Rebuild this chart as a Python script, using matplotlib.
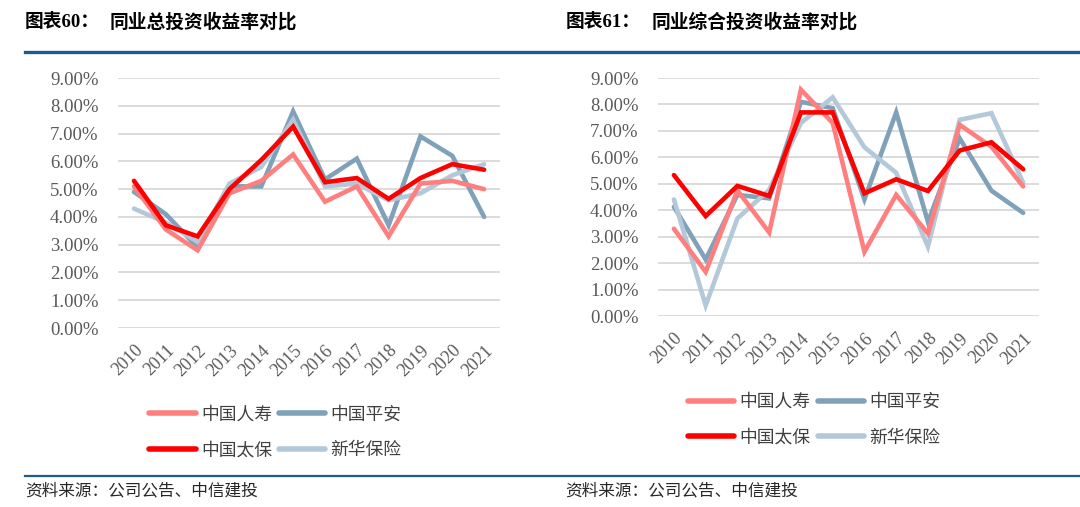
import numpy as np
import matplotlib
matplotlib.use('Agg')
import matplotlib.pyplot as plt
from matplotlib.lines import Line2D

# =========================================================
# 数据 (从图中读取, 单位: %)
# =========================================================
years = ['2010', '2011', '2012', '2013', '2014', '2015',
         '2016', '2017', '2018', '2019', '2020', '2021']
companies = ['中国人寿', '中国太保', '中国平安', '新华保险']

# 图表60: 总投资收益率
total_rensho  = [5.10, 3.55, 2.80, 4.85, 5.30, 6.25, 4.55, 5.10, 3.30, 5.20, 5.30, 5.00]
total_taibao  = [5.30, 3.70, 3.30, 5.00, 6.05, 7.25, 5.25, 5.40, 4.65, 5.40, 5.90, 5.70]
total_pingan  = [4.90, 4.10, 2.90, 5.10, 5.10, 7.80, 5.35, 6.10, 3.70, 6.90, 6.20, 4.00]
total_xinhua  = [4.30, 3.80, 3.10, 5.20, 5.80, 7.50, 5.10, 5.20, 4.60, 4.85, 5.50, 5.90]

# 图表61: 综合投资收益率
comp_rensho = [3.30, 1.67, 4.75, 3.16, 8.56, 7.30, 2.43, 4.58, 3.12, 7.23, 6.40, 4.90]
comp_taibao = [5.33, 3.78, 4.92, 4.54, 7.70, 7.70, 4.64, 5.17, 4.73, 6.26, 6.57, 5.55]
comp_pingan = [4.13, 2.14, 4.58, 4.45, 8.10, 7.86, 4.41, 7.70, 3.56, 6.72, 4.74, 3.90]
comp_xinhua = [4.41, 0.40, 3.69, 4.77, 7.30, 8.27, 6.38, 5.42, 2.62, 7.42, 7.67, 5.04]

yticks = np.arange(0, 10, 1)

colors = {'中国人寿': '#FF7F7F', '中国太保': '#FF0000',
          '中国平安': '#7FA1BA', '新华保险': '#B3C8D8'}

serif = ['Liberation Serif', 'Noto Sans CJK SC']
cjk = ['Noto Sans CJK SC', 'DejaVu Sans']
navy = '#1F5A8C'
grey_txt = '#595959'

fig = plt.figure(figsize=(10.8, 5.07), dpi=100)

panels = [
    dict(rect=[0.1093, 0.353, 0.3537, 0.493],
         data=[total_rensho, total_taibao, total_pingan, total_xinhua],
         num='图表60：', title='同业总投资收益率对比',
         tx=25, tx2=110, leg=(0.255, 0.147), src=25),
    dict(rect=[0.6093, 0.3767, 0.3528, 0.4694],
         data=[comp_rensho, comp_taibao, comp_pingan, comp_xinhua],
         num='图表61：', title='同业综合投资收益率对比',
         tx=566, tx2=652, leg=(0.754, 0.172), src=565),
]

for p in panels:
    ax = fig.add_axes(p['rect'])
    x = np.arange(len(years))
    # 绘制顺序: 平安/新华 在下, 人寿/太保 在上
    order = [2, 3, 0, 1]
    for i in order:
        name = companies[i]
        ax.plot(x, p['data'][i], color=colors[name], linewidth=3.3,
                solid_capstyle='round', solid_joinstyle='miter',
                clip_on=False, zorder=3)
    ax.set_xlim(-0.5, len(years) - 0.5)
    ax.set_ylim(0, 9)
    ax.set_yticks(yticks)
    ax.set_yticklabels([f'{v:.2f}%' for v in yticks],
                       fontfamily=serif, fontsize=13.5, color=grey_txt)
    ax.set_xticks(x)
    ax.set_xticklabels(years, rotation=45, ha='right', va='top',
                       rotation_mode='anchor',
                       fontfamily=serif, fontsize=13, color=grey_txt)
    ax.tick_params(axis='both', length=0)
    ax.tick_params(axis='y', pad=14)
    ax.tick_params(axis='x', pad=10)
    ax.yaxis.grid(True, color='#D9D9D9', linewidth=1.3)
    ax.set_axisbelow(True)
    for s in ax.spines.values():
        s.set_visible(False)

    handles = [Line2D([0], [0], color=colors[c], linewidth=4,
                      solid_capstyle='round') for c in companies]
    ax.legend(handles, companies, loc='center',
              bbox_to_anchor=p['leg'], bbox_transform=fig.transFigure,
              ncol=2, frameon=False, handlelength=2.6, handletextpad=0.3,
              columnspacing=0.4, labelspacing=1.0,
              prop={'family': cjk, 'size': 12.8}, labelcolor='#404040')

    # 标题
    fig.text(p['tx'] / 1080, 1 - 22 / 507, p['num'], fontfamily=serif,
             fontweight='bold', fontsize=13.5, va='center', ha='left')
    fig.text(p['tx2'] / 1080, 1 - 22 / 507, p['title'], fontfamily=cjk,
             fontweight='bold', fontsize=13.5, va='center', ha='left')
    # 来源
    fig.text(p['src'] / 1080, 1 - 491 / 507, '资料来源：公司公告、中信建投',
             fontfamily=cjk, fontstyle='italic', fontsize=12,
             va='center', ha='left', color='#262626')

# 分隔线
fig.add_artist(Line2D([25 / 1080, 1.0], [1 - 52 / 507] * 2,
                      color=navy, linewidth=2.4))
fig.add_artist(Line2D([25 / 1080, 1.0], [1 - 476 / 507] * 2,
                      color=navy, linewidth=1.6))

fig.savefig('out.png', dpi=100)
